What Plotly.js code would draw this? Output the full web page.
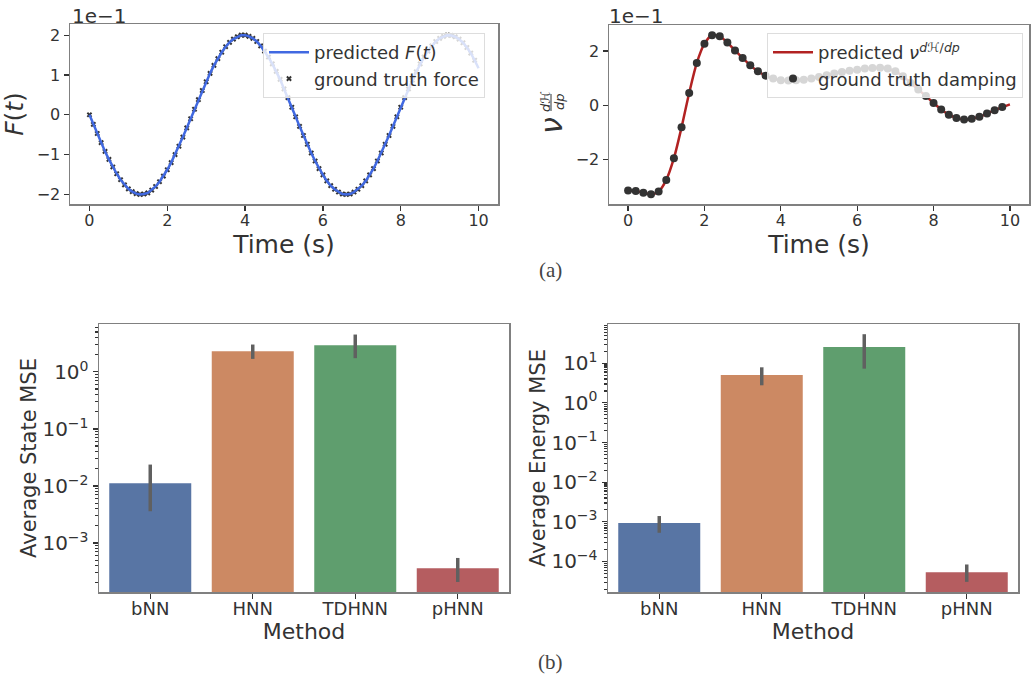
<!DOCTYPE html>
<html>
<head>
<meta charset="utf-8">
<script src="https://cdn.plot.ly/plotly-3.0.1.min.js"></script>
<style>html,body{margin:0;padding:0;background:#fff;}#chart{width:1031px;height:679px;}</style>
</head>
<body>
<div id="chart"></div>
<script>
// ---- Data ----
// Force F(t), in units of 1e-1, sampled every 0.1 s from 0 to 10 s
const forceTimeStep = 0.1;
const forceValues = [
  0, -0.24, -0.47, -0.70, -0.92, -1.12, -1.31, -1.48, -1.63, -1.76,
  -1.86, -1.93, -1.98, -2.00, -1.99, -1.96, -1.89, -1.80, -1.68, -1.54,
  -1.38, -1.20, -1.00, -0.79, -0.56, -0.33, -0.10, 0.14, 0.38, 0.61,
  0.83, 1.04, 1.24, 1.41, 1.57, 1.71, 1.82, 1.90, 1.96, 2.00,
  2.00, 1.97, 1.92, 1.84, 1.73, 1.60, 1.45, 1.28, 1.09, 0.89,
  0.65, 0.43, 0.19, -0.05, -0.29, -0.52, -0.74, -0.96, -1.16, -1.35,
  -1.51, -1.66, -1.78, -1.87, -1.94, -1.99, -2.00, -1.99, -1.94, -1.87,
  -1.78, -1.66, -1.51, -1.35, -1.16, -0.96, -0.74, -0.52, -0.29, -0.05,
  0.19, 0.43, 0.65, 0.87, 1.08, 1.28, 1.45, 1.60, 1.73, 1.84,
  1.92, 1.97, 2.00, 1.99, 1.96, 1.90, 1.81, 1.69, 1.55, 1.37,
  1.17
];
// Damping term, in units of 1e-1, sampled every 0.2 s from 0 to 10 s
const dampTimeStep = 0.2;
const dampValues = [
  -3.15, -3.17, -3.23, -3.29, -3.19, -2.76, -1.96, -0.82, 0.45, 1.56,
  2.27, 2.58, 2.54, 2.31, 2.02, 1.74, 1.47, 1.25, 1.09, 0.98,
  0.92, 0.91, 0.92, 0.94, 0.98, 1.04, 1.10, 1.17, 1.22, 1.27,
  1.31, 1.35, 1.37, 1.38, 1.35, 1.25, 1.07, 0.82, 0.58, 0.34,
  0.08, -0.16, -0.35, -0.47, -0.53, -0.50, -0.43, -0.31, -0.19, -0.07,
  0.03
];
// Bar charts
const methods = ["bNN", "HNN", "TDHNN", "pHNN"];
const stateMSE = [0.0111, 2.30, 2.94, 3.6e-4];
const stateHi  = [0.0237, 3.02, 4.52, 5.46e-4];
const stateLo  = [0.0036, 1.69, 1.74, 2.07e-4];
const energyMSE = [9.3e-4, 5.07, 25.8, 5.37e-5];
const energyHi  = [1.40e-3, 7.9, 54, 8.4e-5];
const energyLo  = [5.3e-4, 2.78, 7.3, 3.06e-5];
const barColors = ["#5875a4", "#cc8963", "#5f9e6e", "#b55d60"];
const stateTickVals = [1e-3, 1e-2, 1e-1, 1];
const stateTickText = ["10<sup>−3</sup>", "10<sup>−2</sup>", "10<sup>−1</sup>", "10<sup>0</sup>"];
const energyTickVals = [1e-4, 1e-3, 1e-2, 1e-1, 1, 10];
const energyTickText = ["10<sup>−4</sup>", "10<sup>−3</sup>", "10<sup>−2</sup>", "10<sup>−1</sup>", "10<sup>0</sup>", "10<sup>1</sup>"];

// ---- Build ----
const forceT = forceValues.map((_, i) => +(i * forceTimeStep).toFixed(2));
const dampT = dampValues.map((_, i) => +(i * dampTimeStep).toFixed(2));

function minorTicks(lo, hi) {
  const out = [];
  for (let e = lo; e <= hi; e++) for (let m = 2; m <= 9; m++) out.push(m * Math.pow(10, e));
  return out;
}

const TXT = '#333333';
const FONT = 'DejaVu Sans, sans-serif';

const traces = [
  { x: forceT.slice(0, 100), y: forceValues.slice(0, 100), type: 'scatter', mode: 'markers',
    name: 'ground truth force', xaxis: 'x', yaxis: 'y', legend: 'legend',
    marker: { symbol: 'x', size: 5, color: '#333333' } },
  { x: forceT, y: forceValues, type: 'scatter', mode: 'lines',
    name: 'predicted <i>F</i>(<i>t</i>)', xaxis: 'x', yaxis: 'y', legend: 'legend',
    line: { color: '#4169e1', width: 2.5 } },
  { x: dampT, y: dampValues, type: 'scatter', mode: 'lines',
    name: 'predicted <i>ν</i><sup><i>d</i>ℋ/<i>dp</i></sup>', xaxis: 'x2', yaxis: 'y2', legend: 'legend2',
    line: { color: '#b22222', width: 2.5, shape: 'spline', smoothing: 0.8 } },
  { x: dampT.slice(0, 50), y: dampValues.slice(0, 50), type: 'scatter', mode: 'markers',
    name: 'ground truth damping', xaxis: 'x2', yaxis: 'y2', legend: 'legend2',
    marker: { symbol: 'circle', size: 8, color: '#333333' } },
  { x: methods, y: stateMSE, type: 'bar', xaxis: 'x3', yaxis: 'y3', showlegend: false,
    marker: { color: barColors },
    error_y: { type: 'data', symmetric: false,
      array: stateHi.map((v, i) => v - stateMSE[i]),
      arrayminus: stateLo.map((v, i) => stateMSE[i] - v),
      thickness: 3.5, width: 0, color: '#606060' } },
  { x: methods, y: energyMSE, type: 'bar', xaxis: 'x4', yaxis: 'y4', showlegend: false,
    marker: { color: barColors },
    error_y: { type: 'data', symmetric: false,
      array: energyHi.map((v, i) => v - energyMSE[i]),
      arrayminus: energyLo.map((v, i) => energyMSE[i] - v),
      thickness: 3.5, width: 0, color: '#606060' } }
];

const axBase = {
  showline: true, mirror: true, linecolor: '#808080', linewidth: 1.5,
  ticks: 'outside', ticklen: 5, tickwidth: 1.2, tickcolor: '#333',
  tickfont: { family: FONT, size: 16, color: TXT },
  showgrid: false, zeroline: false
};
const W = 1031, H = 679;
const px = (a, b) => [a / W, b / W];
const py = (top, bottom) => [1 - bottom / H, 1 - top / H];

const layout = {
  width: W, height: H,
  margin: { l: 0, r: 0, t: 0, b: 0 },
  paper_bgcolor: '#fff', plot_bgcolor: '#fff',
  font: { family: FONT, color: TXT },
  bargap: 0.2,
  xaxis: Object.assign({}, axBase, { domain: px(70, 498), anchor: 'y', range: [-0.5, 10.5], dtick: 2, tick0: 0,
    ticklabelstandoff: -4,
    title: { text: 'Time (s)', font: { size: 25, color: TXT }, standoff: 0 } }),
  yaxis: Object.assign({}, axBase, { domain: py(24, 204), anchor: 'x', range: [-2.24, 2.28], dtick: 1, tick0: 0,
    title: { text: '<i>F</i>(<i>t</i>)', font: { size: 25, color: TXT }, standoff: 8 } }),
  xaxis2: Object.assign({}, axBase, { domain: px(609, 1029), anchor: 'y2', range: [-0.5, 10.5], dtick: 2, tick0: 0,
    ticklabelstandoff: -4,
    title: { text: 'Time (s)', font: { size: 25, color: TXT }, standoff: 0 } }),
  yaxis2: Object.assign({}, axBase, { domain: py(25, 204), anchor: 'x2', range: [-3.65, 2.96], tickvals: [-2, 0, 2] }),
  xaxis3: Object.assign({}, axBase, { domain: px(99, 509), anchor: 'y3', range: [-0.5, 3.5],
    tickfont: { family: FONT, size: 18, color: TXT }, ticklabelstandoff: -5,
    title: { text: 'Method', font: { size: 22, color: TXT }, standoff: 0 } }),
  yaxis3: Object.assign({}, axBase, { domain: py(324, 592), anchor: 'x3', type: 'log', range: [-3.86, 0.84],
    tickvals: stateTickVals, ticktext: stateTickText, tickfont: { family: FONT, size: 20, color: TXT },
    minor: { ticks: 'outside', ticklen: 3, tickcolor: '#333', tickvals: minorTicks(-4, 0) },
    title: { text: 'Average State MSE', font: { size: 21, color: TXT }, standoff: 0 } }),
  xaxis4: Object.assign({}, axBase, { domain: px(608, 1018), anchor: 'y4', range: [-0.5, 3.5],
    tickfont: { family: FONT, size: 18, color: TXT }, ticklabelstandoff: -5,
    title: { text: 'Method', font: { size: 22, color: TXT }, standoff: 0 } }),
  yaxis4: Object.assign({}, axBase, { domain: py(324, 592), anchor: 'x4', type: 'log', range: [-4.77, 1.99],
    tickvals: energyTickVals, ticktext: energyTickText, tickfont: { family: FONT, size: 20, color: TXT },
    minor: { ticks: 'outside', ticklen: 3, tickcolor: '#333', tickvals: minorTicks(-5, 1) },
    title: { text: 'Average Energy MSE', font: { size: 21, color: TXT }, standoff: 0 } }),
  legend: { x: 263 / W, y: 1 - 33 / H, xanchor: 'left', yanchor: 'top', traceorder: 'reversed',
    bgcolor: 'rgba(255,255,255,0.8)', bordercolor: '#dddddd', borderwidth: 1,
    font: { family: FONT, size: 18, color: TXT }, itemwidth: 40, tracegroupgap: 0 },
  legend2: { x: 767 / W, y: 1 - 33 / H, xanchor: 'left', yanchor: 'top',
    bgcolor: 'rgba(255,255,255,0.8)', bordercolor: '#dddddd', borderwidth: 1,
    font: { family: FONT, size: 18, color: TXT }, itemwidth: 40 },
  shapes: [
    { type: 'line', xref: 'paper', yref: 'paper', x0: 551 / W, x1: 551 / W, y0: 1 - 111 / H, y1: 1 - 94 / H,
      line: { color: TXT, width: 1 } }
  ],
  annotations: [
    { text: '1e−1', xref: 'paper', yref: 'paper', x: 70 / W, y: 1 - 16 / H, xanchor: 'left', yanchor: 'middle',
      showarrow: false, font: { family: FONT, size: 20, color: TXT } },
    { text: '1e−1', xref: 'paper', yref: 'paper', x: 607 / W, y: 1 - 16 / H, xanchor: 'left', yanchor: 'middle',
      showarrow: false, font: { family: FONT, size: 20, color: TXT } },
    // damping y-axis title: ν with a small stacked fraction dℋ/dp
    { text: '<i>ν</i>', xref: 'paper', yref: 'paper', x: 551 / W, y: 1 - 126 / H, xanchor: 'center', yanchor: 'middle',
      textangle: -90, showarrow: false, font: { family: FONT, size: 30, color: TXT } },
    { text: '<i>d</i>ℋ', xref: 'paper', yref: 'paper', x: 545 / W, y: 1 - 102 / H, xanchor: 'center', yanchor: 'middle',
      textangle: -90, showarrow: false, font: { family: FONT, size: 13, color: TXT } },
    { text: '<i>dp</i>', xref: 'paper', yref: 'paper', x: 559 / W, y: 1 - 102 / H, xanchor: 'center', yanchor: 'middle',
      textangle: -90, showarrow: false, font: { family: FONT, size: 13, color: TXT } },
    { text: '(a)', xref: 'paper', yref: 'paper', x: 550 / W, y: 1 - 270 / H, xanchor: 'center', yanchor: 'middle',
      showarrow: false, font: { family: 'Liberation Serif, DejaVu Serif, serif', size: 21, color: '#444' } },
    { text: '(b)', xref: 'paper', yref: 'paper', x: 550 / W, y: 1 - 662 / H, xanchor: 'center', yanchor: 'middle',
      showarrow: false, font: { family: 'Liberation Serif, DejaVu Serif, serif', size: 21, color: '#444' } }
  ]
};

Plotly.newPlot('chart', traces, layout, { displayModeBar: false, staticPlot: true });
</script>
</body>
</html>
